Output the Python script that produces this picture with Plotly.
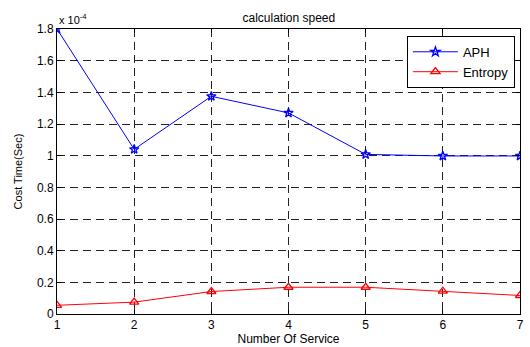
import plotly.graph_objects as go

services = [1, 2, 3, 4, 5, 6, 7]
aph = [1.80, 1.04, 1.375, 1.27, 1.008, 0.998, 0.998]        # x 1e-4 sec
entropy = [0.055, 0.075, 0.142, 0.169, 0.169, 0.144, 0.117]  # x 1e-4 sec
y_ticks = [0, 0.2, 0.4, 0.6, 0.8, 1, 1.2, 1.4, 1.6, 1.8]
y_tick_text = ["0", "0.2", "0.4", "0.6", "0.8", "1", "1.2", "1.4", "1.6", "1.8"]

font = "Liberation Sans, Arial, sans-serif"

fig = go.Figure()
fig.add_trace(go.Scatter(x=services, y=aph, name="APH", mode="lines+markers",
                         line=dict(color="#0000ff", width=1),
                         marker=dict(symbol="star-open", size=7, color="#0000ff",
                                     line=dict(width=1.3, color="#0000ff"))))
fig.add_trace(go.Scatter(x=services, y=entropy, name="Entropy", mode="lines+markers",
                         line=dict(color="#ff0000", width=1),
                         marker=dict(symbol="triangle-up-open", size=8, color="#ff0000",
                                     line=dict(width=1.3, color="#ff0000"))))

axis_common = dict(showline=True, linecolor="black", linewidth=1, mirror="allticks",
                   ticks="inside", ticklen=4, tickcolor="black",
                   showgrid=True, gridcolor="#222222", griddash="8px,5px", gridwidth=1,
                   zeroline=False, tickfont=dict(family=font, size=12, color="black"))

fig.update_xaxes(range=[1, 7], tickvals=services, **axis_common,
                 title=dict(text="Number Of Service", font=dict(family=font, size=12, color="black"),
                            standoff=0))
fig.update_yaxes(range=[0, 1.8], tickvals=y_ticks, ticktext=y_tick_text, **axis_common,
                 title=dict(text="Cost Time(Sec)", font=dict(family=font, size=11, color="black"),
                            standoff=12))

fig.update_layout(
    width=530, height=347,
    margin=dict(l=57, r=6, t=29, b=30),
    paper_bgcolor="white", plot_bgcolor="white",
    title=dict(text="calculation speed", x=0.545, xanchor="center", y=0.95, yanchor="middle",
               font=dict(family=font, size=12, color="black")),
    showlegend=True,
    legend=dict(x=0.989, xanchor="right", y=0.976, yanchor="top",
                bgcolor="white", bordercolor="black", borderwidth=1,
                font=dict(family=font, size=13, color="black"),
                tracegroupgap=0, itemwidth=45),
    annotations=[dict(text="x 10<sup>-4</sup>", xref="paper", yref="paper", x=0, y=1.005,
                      xanchor="left", yanchor="bottom", showarrow=False,
                      font=dict(family=font, size=11, color="black"))],
)

fig.write_html("out.html")
